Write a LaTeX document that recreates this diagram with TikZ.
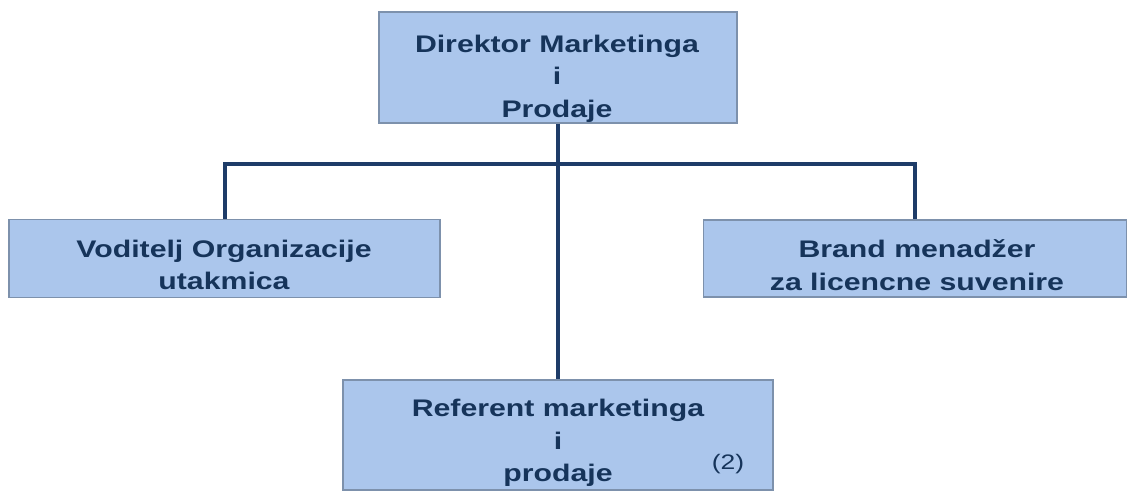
\documentclass[tikz,border=0pt]{standalone}
\usepackage{fontspec}
\setmainfont{Liberation Sans}[FakeStretch=1.26]
\definecolor{boxfill}{RGB}{171,198,236}
\definecolor{boxedge}{RGB}{125,145,172}
\definecolor{navy}{RGB}{22,52,90}
\definecolor{linecol}{RGB}{30,60,104}
\tikzset{
  orgbox/.style={draw=boxedge, line width=1.4pt, fill=boxfill, rectangle, inner sep=0pt},
  orgtext/.style={text=navy, font=\fontsize{24}{32.5}\selectfont\bfseries, align=center, inner sep=0pt},
  conn/.style={draw=linecol, line width=4pt}
}
\begin{document}
\begin{tikzpicture}[x=1pt,y=-1pt]
\useasboundingbox (0,0) rectangle (1129,493);
% boxes
\node[orgbox, minimum width=358pt, minimum height=111pt] (top) at (558,67.5) {};
\node[orgbox, minimum width=431pt, minimum height=78pt] (left) at (224.5,258.5) {};
\node[orgbox, minimum width=423pt, minimum height=77pt] (right) at (915,258.5) {};
\node[orgbox, minimum width=430pt, minimum height=110pt] (bot) at (558,435) {};
% connectors
\coordinate (bus) at (558,164);
\draw[conn] (top.south) -- (bot.north);
\draw[conn] (left.north) |- (bus) -| (right.north);
% texts
\node[orgtext] (toptext) at (557,78.5) {Direktor Marketinga\\i\\Prodaje};
\node[orgtext] (lefttext) at (224,265) {Voditelj Organizacije\\utakmica};
\node[orgtext] (righttext) at (917,265) {Brand menadžer\\za licencne suvenire};
\node[orgtext] (bottext) at (558,443) {Referent marketinga\\i\\prodaje};
\node[text=navy, font=\fontsize{21}{24}\selectfont, inner sep=0pt] (count) at (728,464) {(2)};
\end{tikzpicture}
\end{document}
